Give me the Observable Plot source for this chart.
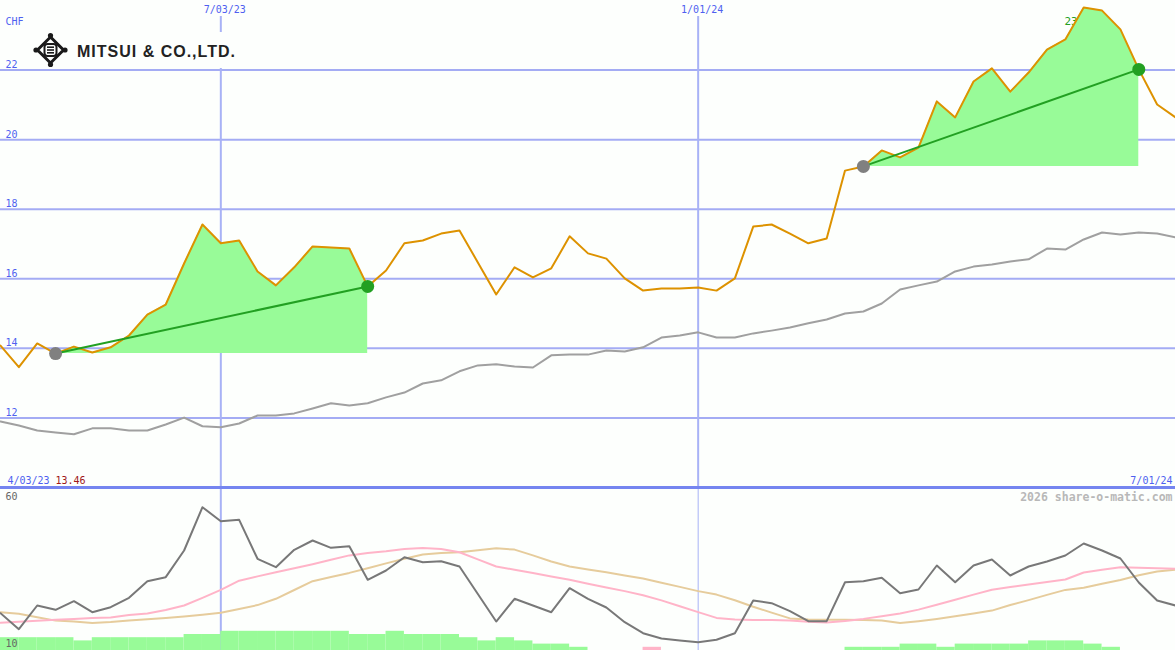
<!DOCTYPE html>
<html><head><meta charset="utf-8">
<script src="https://cdn.jsdelivr.net/npm/d3@7"></script>
<script src="https://cdn.jsdelivr.net/npm/@observablehq/plot@0.6"></script>
<style>
html,body{margin:0;padding:0;background:#fdfffd;}
#wrap{position:relative;width:1175px;height:650px;overflow:hidden;background:#fdfffd;}
#upper{position:absolute;left:0;top:0;}
#lower{position:absolute;left:0;top:489px;}
#logo{position:absolute;left:30px;top:32px;}
</style>
</head><body>
<div id="wrap">
  <div id="lower"></div>
  <div id="upper"></div>
  <svg id="logo" width="212" height="36" style="background:#fdfffd">
    <polygon points="20.5,5 33.5,18 20.5,31 7.5,18" fill="none" stroke="#1a1a1a" stroke-width="3"/>
    <circle cx="20.5" cy="3.5" r="2.6" fill="#1a1a1a"/>
    <circle cx="35" cy="18" r="2.6" fill="#1a1a1a"/>
    <circle cx="20.5" cy="32.5" r="2.6" fill="#1a1a1a"/>
    <circle cx="6" cy="18" r="2.6" fill="#1a1a1a"/>
    <rect x="14.5" y="12" width="12" height="12" rx="3" fill="none" stroke="#1a1a1a" stroke-width="2"/>
    <line x1="17" x2="24" y1="15.2" y2="15.2" stroke="#1a1a1a" stroke-width="1.6"/>
    <line x1="17" x2="24" y1="18" y2="18" stroke="#1a1a1a" stroke-width="1.6"/>
    <line x1="17" x2="24" y1="20.8" y2="20.8" stroke="#1a1a1a" stroke-width="1.6"/>
    <text x="47" y="25" font-family="Liberation Sans, Arial, sans-serif" font-weight="bold" font-size="16" letter-spacing="1" fill="#222">MITSUI &amp; CO.,LTD.</text>
  </svg>
</div>
<script>
// ---- data (weekly) ----
const dates = [
"2023-04-10","2023-04-17","2023-04-24","2023-05-01","2023-05-08","2023-05-15","2023-05-22","2023-05-29",
"2023-06-05","2023-06-12","2023-06-19","2023-06-26","2023-07-03","2023-07-10","2023-07-17","2023-07-24",
"2023-07-31","2023-08-07","2023-08-14","2023-08-21","2023-08-28","2023-09-04","2023-09-11","2023-09-18",
"2023-09-25","2023-10-02","2023-10-09","2023-10-16","2023-10-23","2023-10-30","2023-11-06","2023-11-13",
"2023-11-20","2023-11-27","2023-12-04","2023-12-11","2023-12-18","2023-12-25","2024-01-01","2024-01-08",
"2024-01-15","2024-01-22","2024-01-29","2024-02-05","2024-02-12","2024-02-19","2024-02-26","2024-03-04",
"2024-03-11","2024-03-18","2024-03-25","2024-04-01","2024-04-08","2024-04-15","2024-04-22","2024-04-29",
"2024-05-06","2024-05-13","2024-05-20","2024-05-27","2024-06-03","2024-06-10","2024-06-17","2024-06-24",
"2024-07-01"];
const price = [
14.08,13.46,14.14,13.85,14.05,13.88,14.03,14.37,14.97,15.26,16.44,17.56,17.02,17.10,16.21,15.81,
16.33,16.93,16.90,16.87,15.78,16.24,17.02,17.10,17.30,17.39,16.47,15.55,16.33,16.04,16.30,17.22,
16.73,16.58,16.01,15.66,15.72,15.72,15.75,15.66,16.01,17.50,17.56,17.30,17.02,17.16,19.11,19.23,
19.69,19.49,19.77,21.10,20.64,21.67,22.05,21.38,21.93,22.59,22.88,23.80,23.71,23.17,22.02,21.01,
20.64];
const movingAvg = [
11.90,11.78,11.64,11.58,11.53,11.70,11.70,11.64,11.64,11.81,12.01,11.76,11.73,11.84,12.07,12.07,
12.13,12.27,12.42,12.36,12.42,12.59,12.73,12.99,13.08,13.34,13.51,13.54,13.48,13.45,13.80,13.82,
13.82,13.94,13.91,14.03,14.31,14.37,14.46,14.31,14.31,14.43,14.51,14.60,14.72,14.83,15.00,15.06,
15.29,15.69,15.81,15.92,16.21,16.35,16.41,16.50,16.56,16.87,16.84,17.13,17.33,17.27,17.33,17.30,
17.19];
const oscillator = [
21.66,16.66,24.06,22.72,25.41,21.97,23.53,26.47,31.66,32.91,41.25,54.78,50.41,50.84,38.66,36.03,
41.47,44.38,42.09,42.59,32.09,35.00,39.16,37.59,37.91,36.25,27.66,19.06,26.16,24.06,21.97,29.47,
26.16,23.44,18.84,15.41,13.75,13.13,12.59,13.34,15.41,25.63,24.78,22.28,19.16,19.16,31.34,31.66,
32.72,27.91,29.06,36.56,31.34,36.56,38.44,33.44,36.25,37.81,39.69,43.44,41.25,38.75,31.25,25.63,
24.06];
const signalPink = [
18.66,18.97,19.28,19.59,19.88,20.13,20.34,21.06,21.56,22.66,24.06,26.44,28.94,31.81,33.16,34.47,
35.72,36.97,38.34,39.72,40.50,41.00,41.72,42.03,41.75,40.72,38.47,36.25,35.25,34.19,33.13,32.13,
30.88,29.66,28.56,27.28,25.66,23.84,22.00,20.19,19.72,19.56,19.50,19.41,19.00,18.72,19.25,19.88,
20.72,21.56,22.78,24.31,25.88,27.47,29.00,29.84,30.66,31.41,32.19,34.38,35.22,36.00,35.88,35.72,
35.53];
const signalTan = [
21.97,21.47,20.41,19.34,19.03,18.59,18.88,19.34,19.75,20.19,20.63,21.19,21.78,22.97,24.19,26.16,
28.91,31.66,32.97,34.25,35.69,37.22,38.66,40.00,40.44,40.72,41.31,41.94,41.53,39.72,37.81,36.25,
35.34,34.47,33.47,32.50,31.19,29.88,28.56,27.47,25.69,23.66,21.84,20.03,19.72,19.59,19.59,19.53,
19.38,18.56,19.16,19.88,20.72,21.56,22.47,24.22,25.75,27.38,28.94,29.59,30.84,32.03,33.50,34.66,
35.22];
const barLevel = [
4,4,4,4,3,4,4,4,4,4,5,5,6,6,6,6,
6,6,6,5,5,6,5,5,5,4,3,4,3,2,2,1,
0,0,0,-1,0,0,0,0,0,0,0,0,0,0,1,1,
1,2,2,1,2,2,2,2,3,3,3,2,1,0,0,0,
0];
const yTicks = [12,14,16,18,20,22];
const vLineDates = ["2023-07-03","2024-01-01"];
const vLineLabels = ["7/03/23","1/01/24"];
const highlightRanges = [["2023-05-01","2023-08-28"],["2024-03-04","2024-06-17"]];
const startLabel = "4/03/23";
const endLabel = "7/01/24";
const currency = "CHF";
const credit = "2026 share-o-matic.com";
const lowerTicks = ["60","10"];

// ---- build ----
const rows = dates.map((d,i)=>({date:new Date(d), price:price[i], avg:movingAvg[i], osc:oscillator[i], pink:signalPink[i], tan:signalTan[i]}));
const bars = rows.slice(0,-1).map((r,i)=>({x1:r.date, x2:rows[i+1].date, level:barLevel[i]})).filter(b=>b.level!==0);
const vLines = vLineDates.map((d,i)=>({date:new Date(d), label:vLineLabels[i]}));
const xDomain = [rows[0].date, rows[rows.length-1].date];
const highlights = highlightRanges.map(([a,b])=>{
  const seg = rows.filter(r=>r.date>=new Date(a) && r.date<=new Date(b));
  const base = seg[0].price;
  return {seg: seg.map(r=>({...r, base})), first: seg[0], last: seg[seg.length-1]};
});
const maxRow = rows.reduce((m,r)=>r.price>m.price?r:m, rows[0]);
const minPrice = d3.min(price);

const BG = "#fdfffd", BLUE = "#4f5ff0", GRID = "#a4acf4", VGRID="#a8b2f6";
const commonStyle = {background:BG, fontFamily:"DejaVu Sans Mono, monospace", fontSize:"10px"};

const hlMarks = [];
for (const h of highlights) {
  hlMarks.push(Plot.areaY(h.seg, {x:"date", y1:"base", y2:"price", fill:"#98fb98", curve:"linear"}));
}
const hlTop = [];
for (const h of highlights) {
  hlTop.push(Plot.line([h.first, h.last], {x:"date", y:"price", stroke:"#22a022", strokeWidth:2}));
  hlTop.push(Plot.dot([h.first], {x:"date", y:"price", r:6.5, fill:"#808080"}));
  hlTop.push(Plot.dot([h.last], {x:"date", y:"price", r:6.5, fill:"#22a022"}));
}

const upper = Plot.plot({
  width:1175, height:489, marginTop:0, marginLeft:0, marginRight:0, marginBottom:2,
  x:{type:"utc", domain:xDomain, axis:null},
  y:{domain:[10,24], axis:null},
  style:commonStyle,
  marks:[
    Plot.ruleY(yTicks, {stroke:GRID, strokeWidth:2}),
    Plot.ruleX(vLines, {x:"date", stroke:VGRID, strokeWidth:2, insetTop:16}),
    Plot.text([maxRow], {x:"date", y:"price", text:d=>d.price.toFixed(1), dx:-6, dy:14, fill:"#22a022", fontSize:11, textAnchor:"middle"}),
    ...hlMarks,
    Plot.line(rows, {x:"date", y:"avg", stroke:"#a0a0a0", strokeWidth:2}),
    Plot.line(rows, {x:"date", y:"price", stroke:"#dd9200", strokeWidth:2}),
    ...hlTop,
    Plot.ruleY([10], {stroke:"#7585f0", strokeWidth:3}),
    Plot.text(yTicks, {y:d=>d, text:d=>String(d), frameAnchor:"left", textAnchor:"start", lineAnchor:"bottom", dx:5, dy:-2, fill:BLUE}),
    Plot.text([currency], {frameAnchor:"top-left", textAnchor:"start", lineAnchor:"bottom", dx:5, dy:24, fill:BLUE}),
    Plot.text(vLines, {x:"date", text:"label", frameAnchor:"top", textAnchor:"middle", lineAnchor:"bottom", dx:4, dy:12, fill:BLUE}),
    Plot.text([startLabel], {frameAnchor:"bottom-left", textAnchor:"start", lineAnchor:"bottom", dx:7, dy:-4, fill:BLUE}),
    Plot.text([minPrice.toFixed(2)], {frameAnchor:"bottom-left", textAnchor:"start", lineAnchor:"bottom", dx:55, dy:-4, fill:"#a01818"}),
    Plot.text([endLabel], {frameAnchor:"bottom-right", textAnchor:"end", lineAnchor:"bottom", dx:-3, dy:-4, fill:BLUE})
  ]
});
document.getElementById("upper").appendChild(upper);

const lower = Plot.plot({
  width:1175, height:161, margin:0,
  x:{type:"utc", domain:xDomain, axis:null},
  y:{domain:[10, 60.3125], axis:null},
  color:{type:"identity"},
  style:commonStyle,
  marks:[
    Plot.ruleX(vLines, {x:"date", stroke:VGRID, strokeWidth:d=>d.label==="7/03/23"?2:1}),
    Plot.rectY(bars, {x1:"x1", x2:"x2", y1:10, y2:d=>10+Math.abs(d.level), fill:d=>d.level<0?"#ffb4c8":"#98fb98"}),
    Plot.line(rows, {x:"date", y:"tan", stroke:"#e6cc9c", strokeWidth:2}),
    Plot.line(rows, {x:"date", y:"pink", stroke:"#ffb4c8", strokeWidth:2}),
    Plot.line(rows, {x:"date", y:"osc", stroke:"#787878", strokeWidth:2}),
    Plot.text([lowerTicks[0]], {frameAnchor:"top-left", textAnchor:"start", lineAnchor:"bottom", dx:5, dy:10, fill:"#666"}),
    Plot.text([lowerTicks[1]], {frameAnchor:"bottom-left", textAnchor:"start", lineAnchor:"bottom", dx:5, dy:-4, fill:"#666"}),
    Plot.text([credit], {frameAnchor:"top-right", textAnchor:"end", lineAnchor:"bottom", dx:-3, dy:11, fill:"#b8b8b8", fontWeight:"bold", fontSize:11.5})
  ]
});
document.getElementById("lower").appendChild(lower);
</script>
</body></html>
